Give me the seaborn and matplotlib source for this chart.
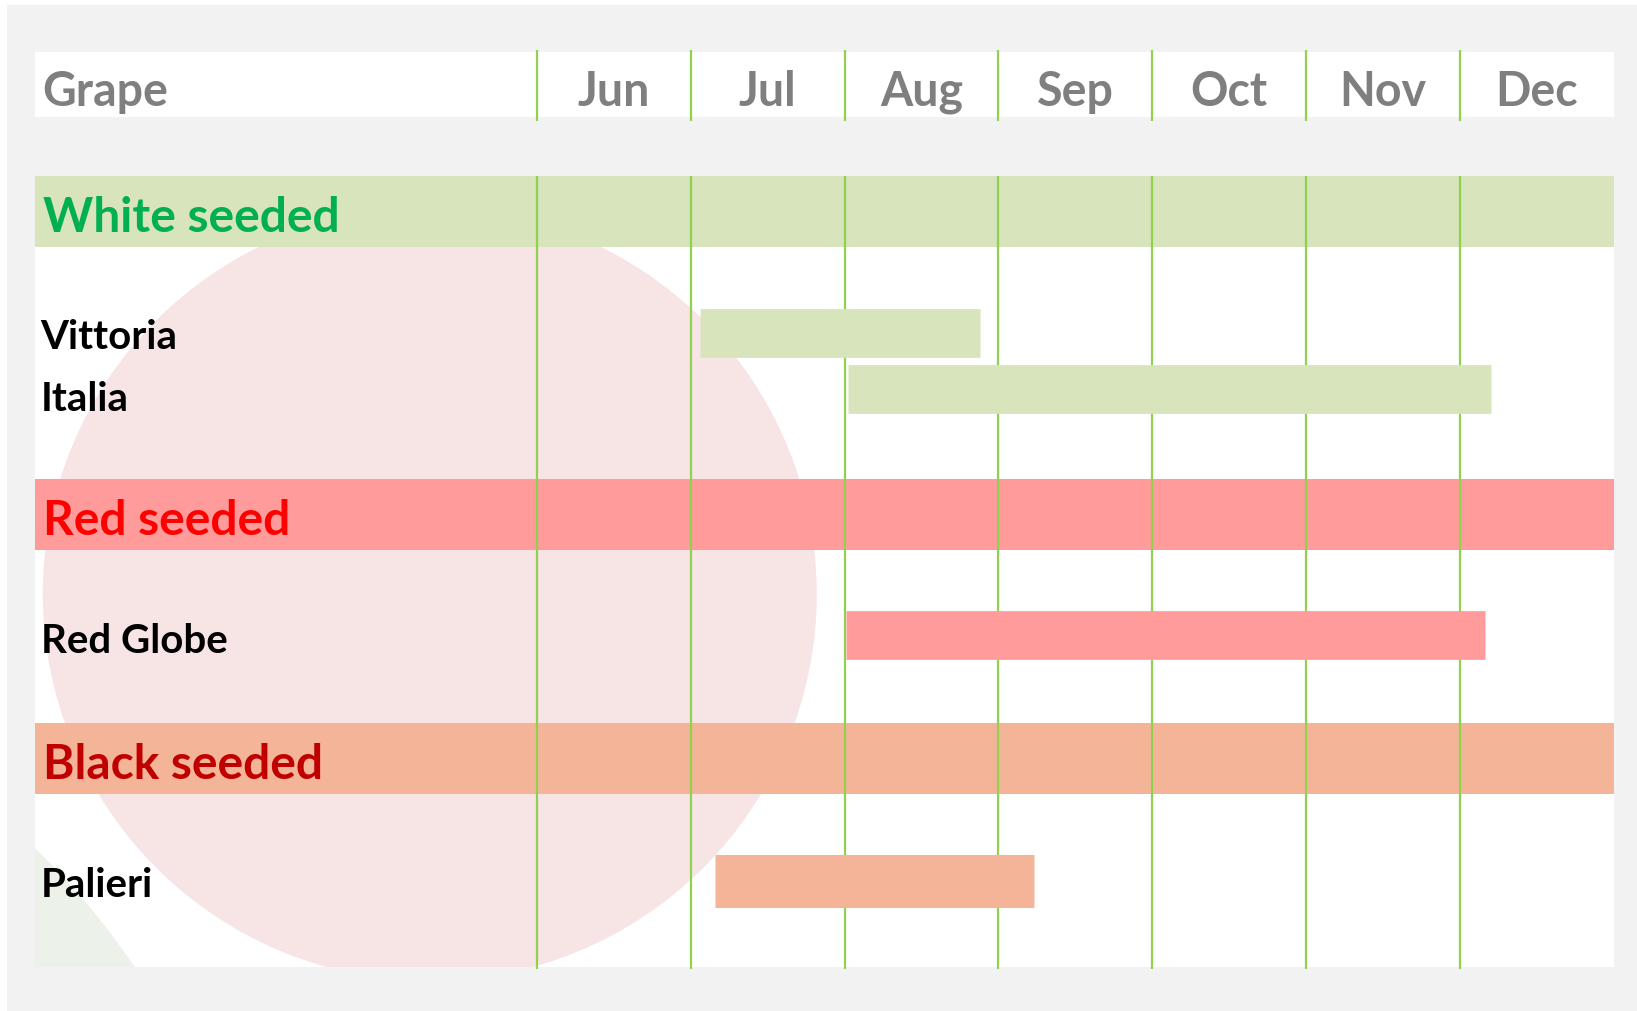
import matplotlib

matplotlib.use("Agg")

import matplotlib.pyplot as plt
import pandas as pd
import seaborn as sns
from matplotlib.patches import Ellipse, Rectangle

MONTHS = ["Jun", "Jul", "Aug", "Sep", "Oct", "Nov", "Dec"]
GROUPS = ["White seeded", "Red seeded", "Black seeded"]
GRAPES = ["Vittoria", "Italia", "Red Globe", "Palieri"]
GRAPE_GROUP = ["White seeded", "White seeded", "Red seeded", "Black seeded"]
# harvest window, counted in months from 1 June
HARVEST_START = [1.06, 2.02, 2.01, 1.16]
HARVEST_END = [2.88, 6.20, 6.16, 3.23]

GROUP_FILL = {"White seeded": "#d8e4bc", "Red seeded": "#ff9b9b", "Black seeded": "#f4b498"}
GROUP_TEXT = {"White seeded": "#00b050", "Red seeded": "#ff0000", "Black seeded": "#c00000"}
GRID_GREEN = "#92d050"
PAGE_GRAY = "#f2f2f2"

# layout of the table, in pixels of the 1637x1012 output
FIG_W, FIG_H = 1637, 1012
TABLE_LEFT, TABLE_RIGHT = 34.5, 1614
HEAD_TOP, HEAD_BOTTOM = 53, 118
BODY_TOP, BODY_BOTTOM = 177, 968
LEFT_EDGE = -3.264  # width of the name column, in months
GROUP_ROW = [35.3, 338.4, 582.2]  # band centres, px below body top
GROUP_ROW_HEIGHT = 70.6
GRAPE_ROW = [157.4, 213.4, 459.4, 704.5]
GRAPE_BAR_PX = [48.7, 48.7, 48.7, 53]
GRAPE_LABEL_Y = [172, 234, 476, 720]  # text baselines


def px_box(left: float, top: float, right: float, bottom: float) -> list[float]:
    return [
        left / FIG_W,
        1 - bottom / FIG_H,
        (right - left) / FIG_W,
        (bottom - top) / FIG_H,
    ]


def clear_axes(ax: plt.Axes) -> None:
    ax.set_xticks([])
    ax.set_yticks([])
    ax.set_xlabel("")
    ax.set_ylabel("")
    ax.set_facecolor("white")
    for spine in ax.spines.values():
        spine.set_visible(False)


sns.set_theme(style="white")
plt.rcParams["font.family"] = ["Lato", "DejaVu Sans"]

fig = plt.figure(figsize=(FIG_W / 100, FIG_H / 100), dpi=100, facecolor=PAGE_GRAY)
fig.patches.append(
    Rectangle((0, 1 - 6 / FIG_H), 1, 6 / FIG_H, transform=fig.transFigure,
              facecolor="white", lw=0, zorder=0)
)
fig.patches.append(
    Rectangle((0, 0), 7 / FIG_W, 1, transform=fig.transFigure,
              facecolor="white", lw=0, zorder=0)
)

# header row
head = fig.add_axes(px_box(TABLE_LEFT, HEAD_TOP, TABLE_RIGHT, HEAD_BOTTOM))
clear_axes(head)
head.set_xlim(LEFT_EDGE, len(MONTHS))
head.set_ylim(HEAD_BOTTOM - HEAD_TOP, 0)
head.vlines(range(len(MONTHS)), -2, HEAD_BOTTOM - HEAD_TOP + 4,
            color=GRID_GREEN, lw=1.6, clip_on=False)
head_font = dict(fontsize=33.5, fontweight="bold", color="#7f7f7f", va="baseline")
head.text(LEFT_EDGE + 0.05, 53, "Grape", ha="left", **head_font)
for i, month in enumerate(MONTHS):
    head.text(i + 0.5, 53, month, ha="center", **head_font)

# table body
body = fig.add_axes(px_box(TABLE_LEFT, BODY_TOP, TABLE_RIGHT, BODY_BOTTOM))
body_height = BODY_BOTTOM - BODY_TOP
month_px = (TABLE_RIGHT - TABLE_LEFT) / (len(MONTHS) - LEFT_EDGE)

# each harvest window is a thick two-point line from start to end
harvest = pd.DataFrame({
    "grape": GRAPES * 2,
    "month": HARVEST_START + HARVEST_END,
    "row": GRAPE_ROW * 2,
})
sns.lineplot(
    data=harvest, x="month", y="row", hue="grape", size="grape",
    palette={g: GROUP_FILL[grp] for g, grp in zip(GRAPES, GRAPE_GROUP)},
    sizes={g: h * 0.72 for g, h in zip(GRAPES, GRAPE_BAR_PX)},
    estimator=None, sort=False, legend=False, ax=body,
    solid_capstyle="butt", zorder=3,
)
clear_axes(body)
body.set_xlim(LEFT_EDGE, len(MONTHS))
body.set_ylim(body_height, 0)

# faded grapes behind the table
body.add_patch(Ellipse(((-500 - 537) / month_px, 1400 - BODY_TOP),
                       2 * 768 / month_px, 2 * 768,
                       facecolor="#ecf1e9", lw=0, zorder=0))
body.add_patch(Ellipse(((430 - 537) / month_px, 595 - BODY_TOP),
                       2 * 387 / month_px, 2 * 387,
                       facecolor="#f7e4e5", lw=0, zorder=0.5))

for group, centre in zip(GROUPS, GROUP_ROW):
    body.axhspan(centre - GROUP_ROW_HEIGHT / 2, centre + GROUP_ROW_HEIGHT / 2,
                 color=GROUP_FILL[group], lw=0, zorder=1)
    body.text(LEFT_EDGE + 0.052, centre + 20, group, color=GROUP_TEXT[group],
              fontsize=34.5, fontweight="bold", va="baseline", zorder=4)

body.vlines(range(len(MONTHS)), 0, body_height + 2, color=GRID_GREEN,
            lw=1.6, zorder=2, clip_on=False)

for grape, base in zip(GRAPES, GRAPE_LABEL_Y):
    body.text(LEFT_EDGE + 0.04, base, grape, color="black", fontsize=29,
              fontweight="bold", va="baseline", zorder=4)

fig.savefig("out.png", dpi=100, facecolor=PAGE_GRAY)
